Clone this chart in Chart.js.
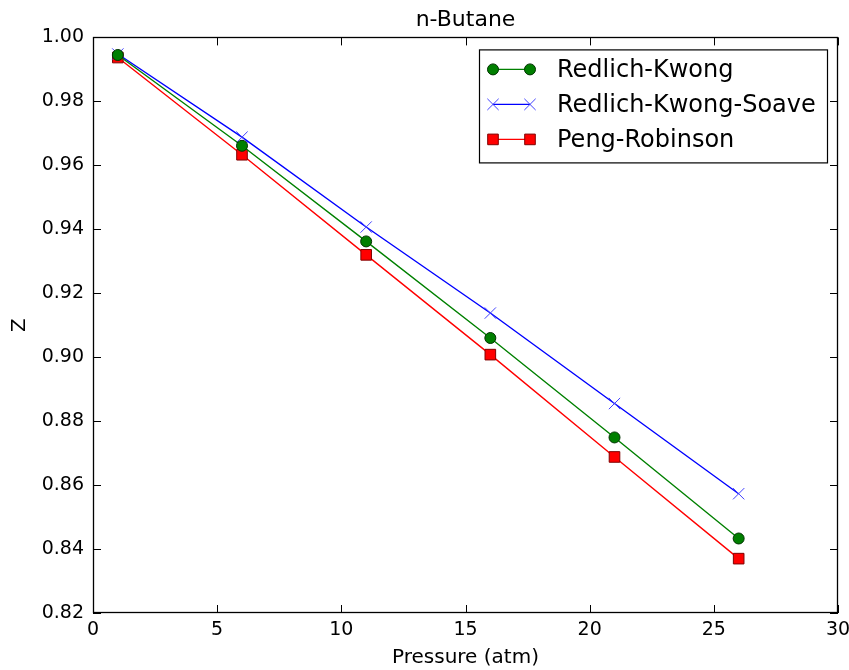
<!DOCTYPE html>
<html>
<head>
<meta charset="utf-8">
<script src="https://cdn.jsdelivr.net/npm/chart.js@4/dist/chart.umd.min.js"></script>
<style>
  html, body { margin: 0; padding: 0; background: #fff; }
  #wrap { width: 849px; height: 670px; }
</style>
</head>
<body>
<div id="wrap"><canvas id="chart" width="849" height="670"></canvas></div>
<script>
// Pressure values (atm) and compressibility factor Z for each equation of state
const pressure = [1, 6, 11, 16, 21, 26];
const zRedlichKwong = [0.9945, 0.9661, 0.9362, 0.9060, 0.8749, 0.8433];
const zRKSoave = [0.9948, 0.9688, 0.9407, 0.9138, 0.8855, 0.8573];
const zPengRobinson = [0.9937, 0.9633, 0.9320, 0.9008, 0.8688, 0.8370];

const seriesNames = ['Redlich-Kwong', 'Redlich-Kwong-Soave', 'Peng-Robinson'];

const FONT = '"DejaVu Sans", sans-serif';

const toPoints = (ys) => pressure.map((p, i) => ({ x: p, y: ys[i] }));

// draws the axes frame plus inward ticks on all four sides (matplotlib look)
const frameTicks = {
  id: 'frameTicks',
  afterDatasetsDraw(chart) {
    const { ctx, chartArea: a, scales } = chart;
    const len = 8;
    ctx.save();
    ctx.strokeStyle = '#000';
    ctx.lineWidth = 1;
    ctx.beginPath();
    scales.x.ticks.forEach(t => {
      const px = Math.round(scales.x.getPixelForValue(t.value)) + 0.5;
      ctx.moveTo(px, a.bottom); ctx.lineTo(px, a.bottom - len);
      ctx.moveTo(px, a.top); ctx.lineTo(px, a.top + len);
    });
    scales.y.ticks.forEach(t => {
      const py = Math.round(scales.y.getPixelForValue(t.value)) + 0.5;
      ctx.moveTo(a.left, py); ctx.lineTo(a.left + len, py);
      ctx.moveTo(a.right, py); ctx.lineTo(a.right - len, py);
    });
    ctx.stroke();
    ctx.lineWidth = 1.3;
    ctx.strokeRect(Math.round(a.left) + 0.5, Math.round(a.top) + 0.5,
      Math.round(a.right - a.left) - 1, Math.round(a.bottom - a.top) - 1);
    ctx.restore();
  }
};

// legend box inside the plot, upper right
const innerLegend = {
  id: 'innerLegend',
  afterDraw(chart) {
    const { ctx, chartArea: a } = chart;
    const boxW = 348, boxH = 113;
    const x0 = a.right - 11 - boxW, y0 = a.top + 12;
    ctx.save();
    ctx.fillStyle = '#fff';
    ctx.fillRect(x0, y0, boxW, boxH);
    ctx.strokeStyle = '#000';
    ctx.lineWidth = 1.2;
    ctx.strokeRect(x0 + 0.5, y0 + 0.5, boxW, boxH);
    ctx.font = '24px ' + FONT;
    ctx.textBaseline = 'middle';
    chart.data.datasets.forEach((ds, i) => {
      const cy = y0 + 20 + i * 35;
      const lx1 = x0 + 14, lx2 = x0 + 51;
      ctx.strokeStyle = ds.borderColor;
      ctx.lineWidth = ds.borderWidth;
      ctx.beginPath();
      ctx.moveTo(lx1, cy); ctx.lineTo(lx2, cy);
      ctx.stroke();
      [lx1, lx2].forEach(px => {
        ctx.fillStyle = ds.pointBackgroundColor;
        ctx.strokeStyle = ds.pointBorderColor;
        ctx.lineWidth = ds.pointBorderWidth;
        Chart.helpers.drawPoint(ctx, {
          pointStyle: ds.pointStyle,
          radius: ds.pointRadius,
          borderWidth: ds.pointBorderWidth
        }, px, cy);
      });
      ctx.fillStyle = '#000';
      ctx.fillText(ds.label, x0 + 78, cy + 1);
    });
    ctx.restore();
  }
};

const ctx = document.getElementById('chart').getContext('2d');

new Chart(ctx, {
  type: 'line',
  data: {
    datasets: [
      {
        label: seriesNames[0],
        data: toPoints(zRedlichKwong),
        borderColor: '#008000',
        borderWidth: 1.4,
        pointStyle: 'circle',
        pointRadius: 5.5,
        pointBackgroundColor: '#007f00',
        pointBorderColor: '#003300',
        pointBorderWidth: 1
      },
      {
        label: seriesNames[1],
        data: toPoints(zRKSoave),
        borderColor: '#0000ff',
        borderWidth: 1.4,
        pointStyle: 'crossRot',
        pointRadius: 8,
        pointBackgroundColor: '#0000ff',
        pointBorderColor: '#4040ff',
        pointBorderWidth: 1
      },
      {
        label: seriesNames[2],
        data: toPoints(zPengRobinson),
        borderColor: '#ff0000',
        borderWidth: 1.4,
        pointStyle: 'rect',
        pointRadius: 7.5,
        pointBackgroundColor: '#ff0000',
        pointBorderColor: '#800000',
        pointBorderWidth: 1
      }
    ]
  },
  options: {
    responsive: false,
    animation: false,
    layout: { padding: { left: 0, right: 11, top: 0, bottom: 0 } },
    plugins: {
      legend: { display: false },
      tooltip: { enabled: false },
      title: {
        display: true,
        fullSize: false,
        text: 'n-Butane',
        color: '#000',
        font: { family: FONT, size: 22, weight: 'normal' },
        padding: { top: 7, bottom: 4 }
      }
    },
    scales: {
      x: {
        type: 'linear',
        min: 0,
        max: 30,
        ticks: {
          stepSize: 5,
          color: '#000',
          padding: 6,
          font: { family: FONT, size: 19 }
        },
        grid: { display: false, drawTicks: false },
        border: { display: false },
        title: {
          display: true,
          text: 'Pressure (atm)',
          color: '#000',
          font: { family: FONT, size: 20 },
          padding: { top: 0, bottom: 0 }
        },
        afterFit(s) {
          s.height = 57;
          s.paddingRight = 0;
          s.paddingLeft = 0;
        }
      },
      y: {
        type: 'linear',
        min: 0.82,
        max: 1.00,
        ticks: {
          stepSize: 0.02,
          color: '#000',
          padding: 9,
          font: { family: FONT, size: 19 },
          callback: v => v.toFixed(2)
        },
        grid: { display: false, drawTicks: false },
        border: { display: false },
        title: {
          display: true,
          text: 'Z',
          color: '#000',
          font: { family: FONT, size: 20 },
          padding: { top: 8, bottom: 0 }
        },
        afterFit(s) {
          s.width = 93;
          s.paddingTop = 0;
          s.paddingBottom = 0;
        }
      }
    }
  },
  plugins: [frameTicks, innerLegend]
});
</script>
</body>
</html>
